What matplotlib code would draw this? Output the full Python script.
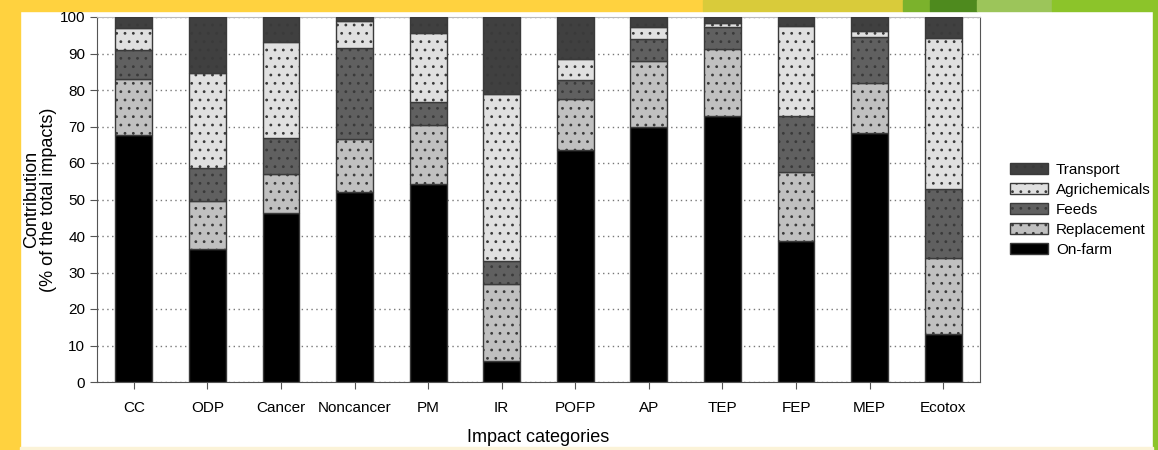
import matplotlib
matplotlib.use("Agg")
import matplotlib.pyplot as plt
import numpy as np
from matplotlib.patches import Rectangle

plt.rcParams["font.family"] = ["Liberation Sans", "DejaVu Sans"]
plt.rcParams["hatch.linewidth"] = 0.8
plt.rcParams["hatch.color"] = "#111111"

# ── data (% of total impacts) ────────────────────────────────
categories = ["CC", "ODP", "Cancer", "Noncancer", "PM", "IR",
              "POFP", "AP", "TEP", "FEP", "MEP", "Ecotox"]
on_farm      = [67.7, 36.5, 46.2, 52.1, 54.2, 5.8, 63.5, 69.9, 73.0, 38.5, 68.3, 13.2]
replacement  = [15.3, 13.0, 10.9, 14.6, 16.2, 21.0, 13.9, 18.0, 18.2, 19.1, 13.6, 20.7]
feeds        = [8.0, 9.0, 9.8, 24.7, 6.3, 6.4, 5.4, 6.0, 6.0, 15.4, 12.7, 19.0]
agrichemicals = [6.0, 26.2, 26.3, 7.5, 18.8, 45.8, 5.7, 3.3, 1.2, 24.5, 1.7, 41.4]
transport    = [3.0, 15.3, 6.8, 1.1, 4.5, 21.0, 11.5, 2.8, 1.6, 2.5, 3.7, 5.7]

series = [
    ("On-farm",       on_farm,       "#000000", None),
    ("Replacement",   replacement,   "#c0c0c0", ".."),
    ("Feeds",         feeds,         "#606060", ".."),
    ("Agrichemicals", agrichemicals, "#e0e0e0", ".."),
    ("Transport",     transport,     "#404040", ".."),
]

W, H = 1158, 450
fig = plt.figure(figsize=(W / 100, H / 100), dpi=100)

# ── slide background decoration (behind everything) ──────────
def px_rect(x0, y0, x1, y1, color):
    fig.patches.append(Rectangle((x0 / W, 1 - y1 / H), (x1 - x0) / W, (y1 - y0) / H,
                                 transform=fig.transFigure, color=color, zorder=-5))

px_rect(0, 0, 20, 450, "#ffd23f")
px_rect(0, 0, 703, 11, "#ffd23f")
px_rect(703, 0, 903, 11, "#d9cb3a")
px_rect(903, 0, 930, 11, "#7bb22c")
px_rect(930, 0, 977, 11, "#4e8a1e")
px_rect(977, 0, 1052, 11, "#9cc55a")
px_rect(1052, 0, 1158, 11, "#8cc42a")
px_rect(1153, 0, 1158, 450, "#8cc42a")
px_rect(20, 447, 1153, 450, "#fbf3d8")

ax = fig.add_axes([97 / W, 1 - 382 / H, (980 - 97) / W, (382 - 17) / H])

x = np.arange(len(categories))
bottom = np.zeros(len(categories))
handles = {}
for name, vals, color, hatch in series:
    bars = ax.bar(x, vals, width=0.5, bottom=bottom, color=color, hatch=hatch,
                  edgecolor="#3a3a3a", linewidth=1.0, label=name, zorder=3)
    handles[name] = bars
    bottom += np.array(vals)

ax.set_xlim(-0.5, len(categories) - 0.5)
ax.set_ylim(0, 100)
ax.set_yticks(range(0, 101, 10))
ax.set_xticks(x)
ax.set_xticklabels(categories, fontsize=11)
ax.tick_params(axis="y", labelsize=11, length=5, color="#555555")
ax.tick_params(axis="x", length=5, pad=9, color="#555555")
ax.grid(axis="y", linestyle=(0, (1, 2.5)), color="#777777", linewidth=1.0, zorder=0)
for side in ["left", "bottom", "right"]:
    ax.spines[side].set_color("#555555")
ax.spines["top"].set_color("#bbbbbb")

ax.set_xlabel("Impact categories", fontsize=13, labelpad=10)
ax.set_ylabel("Contribution\n(% of the total impacts)", fontsize=13, labelpad=2,
              linespacing=1.0)

order = ["Transport", "Agrichemicals", "Feeds", "Replacement", "On-farm"]
leg = ax.legend([handles[n] for n in order], order, loc="center left",
                bbox_to_anchor=(1.027, 0.472), frameon=False, fontsize=11,
                handlelength=2.5, handleheight=0.8, labelspacing=0.38,
                handletextpad=0.5, borderaxespad=0)
leg.set_zorder(10)

fig.savefig("out.png", dpi=100)
